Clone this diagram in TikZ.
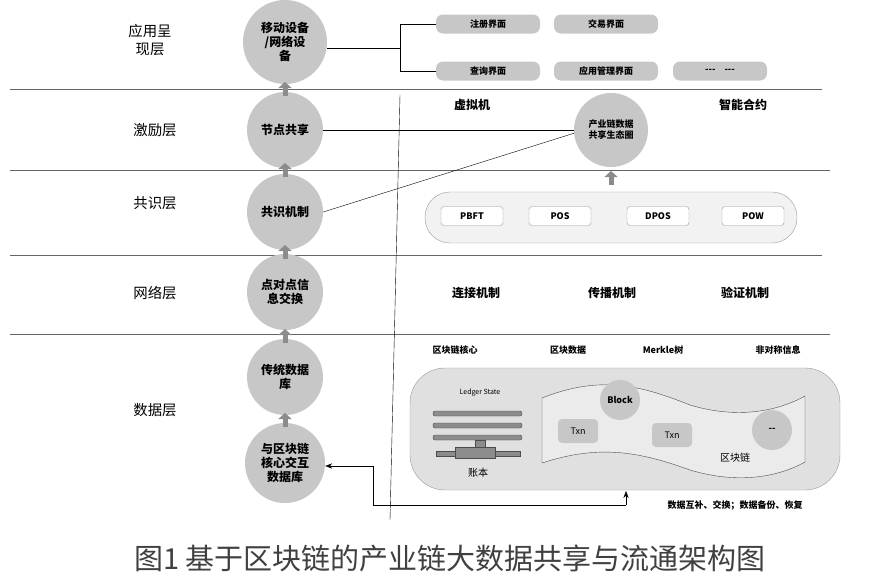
\documentclass[tikz,border=0pt]{standalone}
\usepackage{fontspec}
\setmainfont{Noto Sans CJK SC}
\usetikzlibrary{arrows.meta}
\begin{document}
\begin{tikzpicture}[x=1pt,y=-1pt,
  layer/.style={font=\Large,align=center},
  circ/.style={circle,fill=black!22,minimum size=76pt,inner sep=1pt,align=center,font=\large\bfseries},
  ibox/.style={rounded corners=7pt,fill=black!22,minimum width=104pt,minimum height=19pt,font=\small\bfseries},
  cbox/.style={rounded corners=3pt,draw=black!40,fill=white,minimum width=62pt,minimum height=19pt,font=\small\bfseries},
  upar/.style={line width=5pt,black!45,-{Triangle[width=13pt,length=6pt]}},
  lbl/.style={font=\large\bfseries},
  ]
  \useasboundingbox (0,0) rectangle (886,587);
  % layer separators
  \foreach \y/\r in {89/822,170/830,255/822,334/830}
    \draw[black!60] (10,\y) -- (\r,\y);
  \draw (400,95) -- (390,520);
  % layer names
  \node[layer] (lapp) at (150,40) {应用呈\\现层};
  \node[layer] (linc) at (155,130) {激励层};
  \node[layer] (lcon) at (155,203) {共识层};
  \node[layer] (lnet) at (155,293) {网络层};
  \node[layer] (ldat) at (155,410) {数据层};
  % stack of circles
  \node[circ,minimum size=84pt] (c1) at (285,42) {移动设备\\/网络设\\备};
  \node[circ] (c2) at (285,130) {节点共享};
  \node[circ] (c3) at (285,212) {共识机制};
  \node[circ] (c4) at (285,292) {点对点信\\息交换};
  \node[circ] (c5) at (285,377) {传统数据\\库};
  \node[circ,minimum size=80pt] (c6) at (285,463) {与区块链\\核心交互\\数据库};
  \foreach \y in {89,170,252,336,420}
    \draw[upar] (285,\y+7) -- (285,\y-7);
  % application layer
  \node[ibox] (reg) at (488,24) {注册界面};
  \node[ibox] (trd) at (606,24) {交易界面};
  \node[ibox] (qry) at (488,71) {查询界面};
  \node[ibox] (mgr) at (606,71) {应用管理界面};
  \node[ibox,minimum width=94pt] (etc) at (720,71) {-{}-{}-\quad -{}-{}-};
  \coordinate (fork) at (400,48);
  \draw (c1.east |- fork) -- (fork);
  \draw (reg.west) -- (400,24) -- (400,71) -- (qry.west);
  % incentive layer
  \node[lbl] (vm) at (472,105) {虚拟机};
  \node[lbl] (sc) at (743,105) {智能合约};
  \node[circ,minimum size=74pt,font=\small\bfseries] (eco) at (611,130) {产业链数据\\共享生态圈};
  \draw (c2.east) -- (eco.west);
  \draw (c3.east) -- (eco.185);
  \draw[upar] (611,185) -- (611,171);
  % consensus layer
  \draw[black!40,fill=black!5,rounded corners=25pt] (425,192) rectangle (797,243);
  \foreach \t/\x in {PBFT/472,POS/560,DPOS/658,POW/753}
    \node[cbox] (\t) at (\x,216) {\t};
  % network layer
  \foreach \t/\x/\n in {连接机制/476/lk,传播机制/612/sp,验证机制/745/vf}
    \node[lbl] (\n) at (\x,293) {\t};
  % data layer
  \foreach \t/\x/\n in {区块链核心/455/core,区块数据/568/bd,Merkle树/663/mk,非对称信息/778/asy}
    \node[font=\small\bfseries] (\n) at (\x,350) {\t};
  \draw[black!40,fill=black!12,rounded corners=35pt] (410,368) rectangle (840,490);
  \node[font=\scriptsize] (ls) at (480,393) {Ledger State};
  \foreach \y in {411,423,435}
    \draw[black!70,fill=black!45,rounded corners=2pt] (433,\y) rectangle (522,\y+5);
  \draw[black!70,fill=black!45] (475,440) rectangle (485,448);
  \draw[black!70,fill=black!45] (436,451) rectangle (520,456);
  \draw[black!70,fill=black!45] (455,447) rectangle (495,458);
  \node[font=\normalsize] (ledger) at (478,473) {账本};
  \draw[black!70,fill=black!8] (542,398) .. controls (600,375) and (640,385) .. (690,405)
    .. controls (740,420) and (780,410) .. (805,396) -- (805,462)
    .. controls (780,476) and (740,485) .. (690,470)
    .. controls (640,452) and (600,444) .. (542,463) -- cycle;
  \node[circle,fill=black!22,minimum size=40pt,font=\small\bfseries] (blk) at (620,400) {Block};
  \node[rounded corners=4pt,fill=black!22,minimum width=40pt,minimum height=24pt,font=\small] (t1) at (578,431) {Txn};
  \node[rounded corners=4pt,fill=black!22,minimum width=40pt,minimum height=24pt,font=\small] (t2) at (672,435) {Txn};
  \node[circle,fill=black!22,minimum size=40pt,font=\small\bfseries] (dots) at (772,430) {-{}-};
  \node[font=\normalsize] (bc) at (735,458) {区块链};
  \coordinate (bot) at (626,491);
  \draw[-{Stealth[length=7pt]}] (626,505) -- (bot);
  \draw[-{Stealth[length=7pt]}] (626,505) -- (373,505) -- (373,466) -- (c6.east |- 0,466);
  \node[font=\small\bfseries] (xchg) at (735,505) {数据互补、交换；数据备份、恢复};
  % caption
  \node[font=\fontsize{29}{34}\selectfont,text=black!75] (cap) at (450,558) {图1\ 基于区块链的产业链大数据共享与流通架构图};
\end{tikzpicture}
\end{document}
